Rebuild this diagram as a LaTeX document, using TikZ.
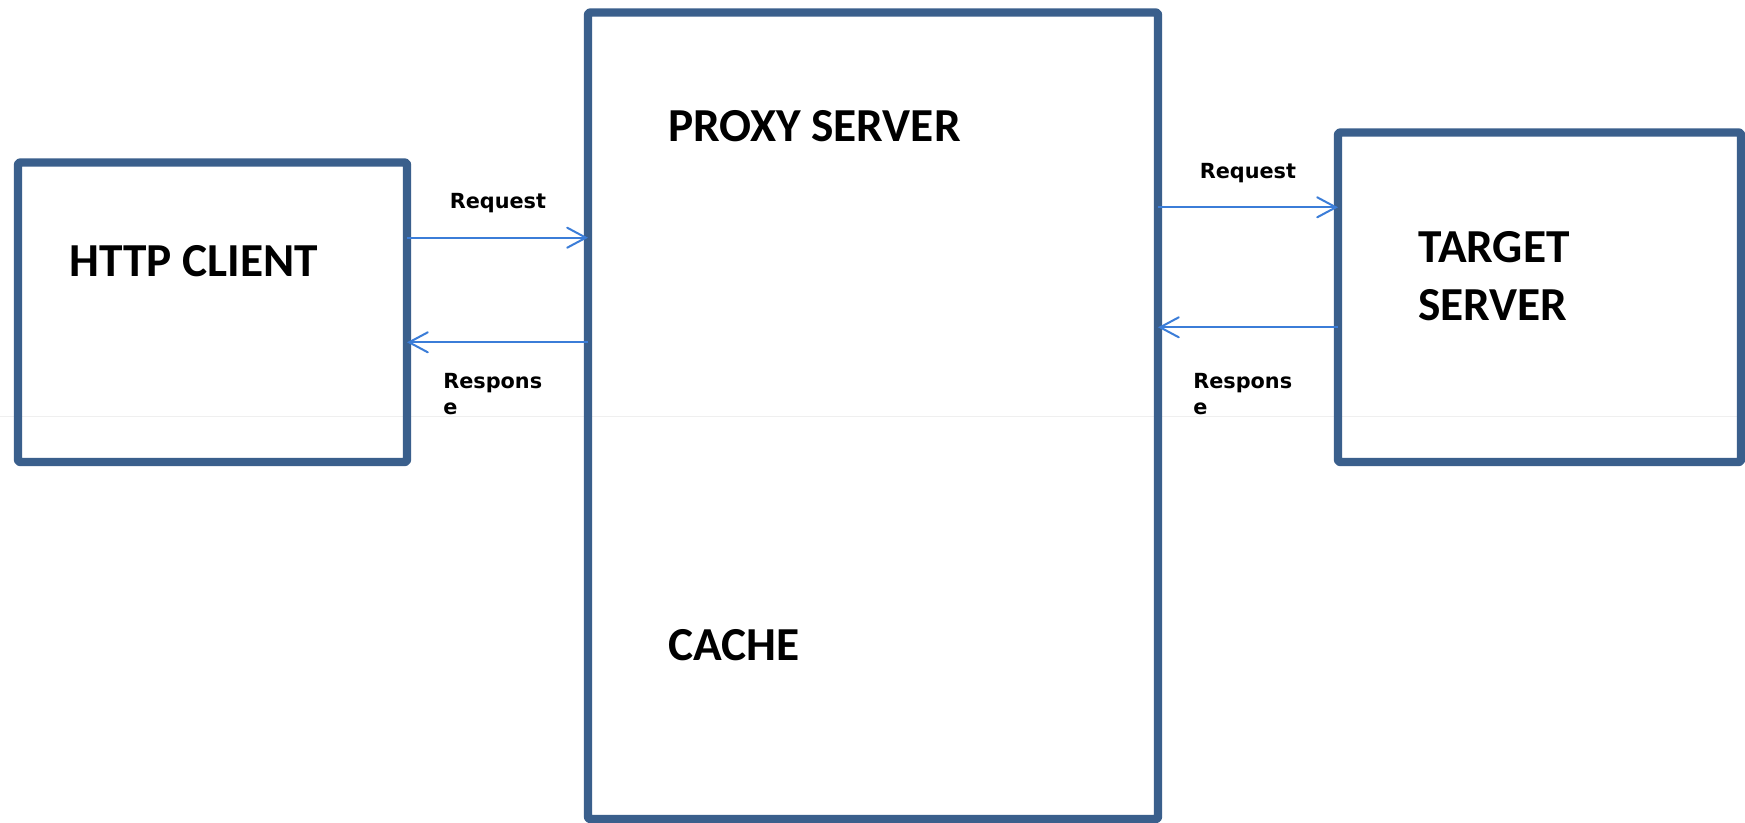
\documentclass[tikz,border=0pt]{standalone}
\usepackage{fontspec}
\setmainfont{Carlito}
\newfontfamily\lblfont{DejaVu Sans}
\usetikzlibrary{arrows.meta}
\definecolor{boxblue}{HTML}{3A5F8C}
\definecolor{arrowblue}{HTML}{3B7DD8}
\definecolor{seam}{HTML}{EFEFEF}
\tikzset{
  unitbox/.style={draw=boxblue, line width=6.2pt, line join=round, rounded corners=1.5pt,
    inner sep=0pt, outer sep=0pt, anchor=north west},
  title/.style={inner sep=0pt, anchor=base west, font=\bfseries\fontsize{35.5}{43.5}\selectfont, align=left},
  lbl/.style={inner sep=0pt, anchor=base west, font=\lblfont\bfseries\fontsize{15.6}{19.3}\selectfont, align=left},
  flow/.style={draw=arrowblue, line width=1.5pt, -{Straight Barb[length=14pt,width=15pt,line cap=round]}}
}
\begin{document}
\begin{tikzpicture}[x=0.75pt, y=-0.75pt]
  \useasboundingbox (0,0) rectangle (1745,822);
  \fill[white] (0,0) rectangle (1745,822);
  % faint horizontal seam across the sheet
  \draw[seam, line width=0.9pt] (0,416.7) -- (1745,416.7);

  % the three boxes
  \node[unitbox, minimum width=291.75pt, minimum height=224.6pt] (client) at (18,162.5) {};
  \node[unitbox, minimum width=427.5pt, minimum height=604.9pt] (proxy) at (588,12.5) {};
  \node[unitbox, minimum width=302.25pt, minimum height=247.1pt] (target) at (1338,132.5) {};

  % box titles (multi-line nodes sit on the baseline of their last line)
  \node[title] (clientname) at (69,276.7) {HTTP CLIENT};
  \node[title] (proxyname) at (668,141.7) {PROXY SERVER};
  \node[title] (cachename) at (668,660) {CACHE};
  \node[title] (targetname) at (1418,320) {TARGET\\SERVER};

  % rows of the connectors
  \coordinate (r1) at (0,237.7);
  \coordinate (s1) at (0,342.3);
  \coordinate (r2) at (0,207.3);
  \coordinate (s2) at (0,327.3);

  % connectors
  \draw[flow] (client.east |- r1) -- (proxy.west |- r1);
  \draw[flow] (proxy.west |- s1) -- (client.east |- s1);
  \draw[flow] (proxy.east |- r2) -- (target.west |- r2);
  \draw[flow] (target.west |- s2) -- (proxy.east |- s2);

  % connector labels
  \node[lbl] (req1) at (449.5,208.3) {Request};
  \node[lbl] (resp1) at (443,414) {Respons\\e};
  \node[lbl] (req2) at (1199.5,178.3) {Request};
  \node[lbl] (resp2) at (1193,414) {Respons\\e};
\end{tikzpicture}
\end{document}
